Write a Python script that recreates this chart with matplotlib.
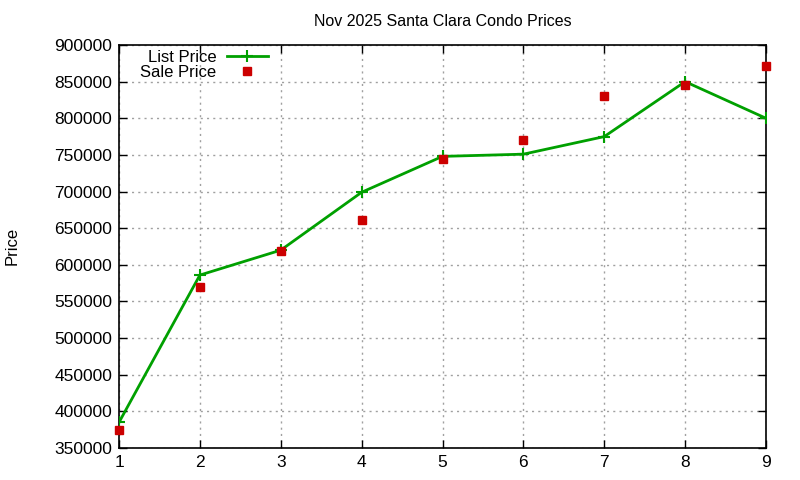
import matplotlib
matplotlib.use("Agg")
import matplotlib.pyplot as plt

plt.rcParams['font.family'] = ['Liberation Sans', 'DejaVu Sans']

# data
x_vals = [1, 2, 3, 4, 5, 6, 7, 8, 9]
list_price = [385000, 586000, 620000, 699000, 748000, 751000, 775000, 850000, 800000]
sale_price = [374000, 570000, 619000, 661000, 744000, 771000, 831000, 846000, 871000]

green = '#00a000'
red = '#cc0000'

fig = plt.figure(figsize=(8, 4.8), dpi=100)
ax = fig.add_axes([119/800, 1-448/480, (766-119)/800, (448-45)/480])

ax.plot(x_vals, list_price, color=green, lw=2, marker='+', ms=9, mew=1.5,
        label='List Price', zorder=3)
ax.plot(x_vals, sale_price, ls='none', marker='s', ms=6, color=red,
        label='Sale Price', zorder=4, clip_on=False)

ax.set_xlim(1, 9)
ax.set_ylim(350000, 900000)
ax.set_xticks(range(1, 10))
ax.set_yticks(range(350000, 900001, 50000))
ax.set_yticklabels([str(v) for v in range(350000, 900001, 50000)])

ax.grid(True, color='#a0a0a0', ls=(0, (1.5, 3)), lw=1)
ax.tick_params(direction='in', top=True, right=True, length=6, labelsize=12.5,
               width=1, pad=5)
for s in ax.spines.values():
    s.set_linewidth(1.2)

ax.set_title('Nov 2025 Santa Clara Condo Prices', fontsize=11.5, pad=14)
fig.text(12/800, 1-246/480, 'Price', rotation=90, fontsize=12,
         ha='center', va='center')

leg = ax.legend(loc='upper left', bbox_to_anchor=(0.01, 1.025), frameon=False,
                markerfirst=False, fontsize=12, handlelength=2.5,
                handletextpad=0.6, labelspacing=0.0)
for t in leg.get_texts():
    t.set_ha('right')

fig.savefig('out.png', dpi=100)
